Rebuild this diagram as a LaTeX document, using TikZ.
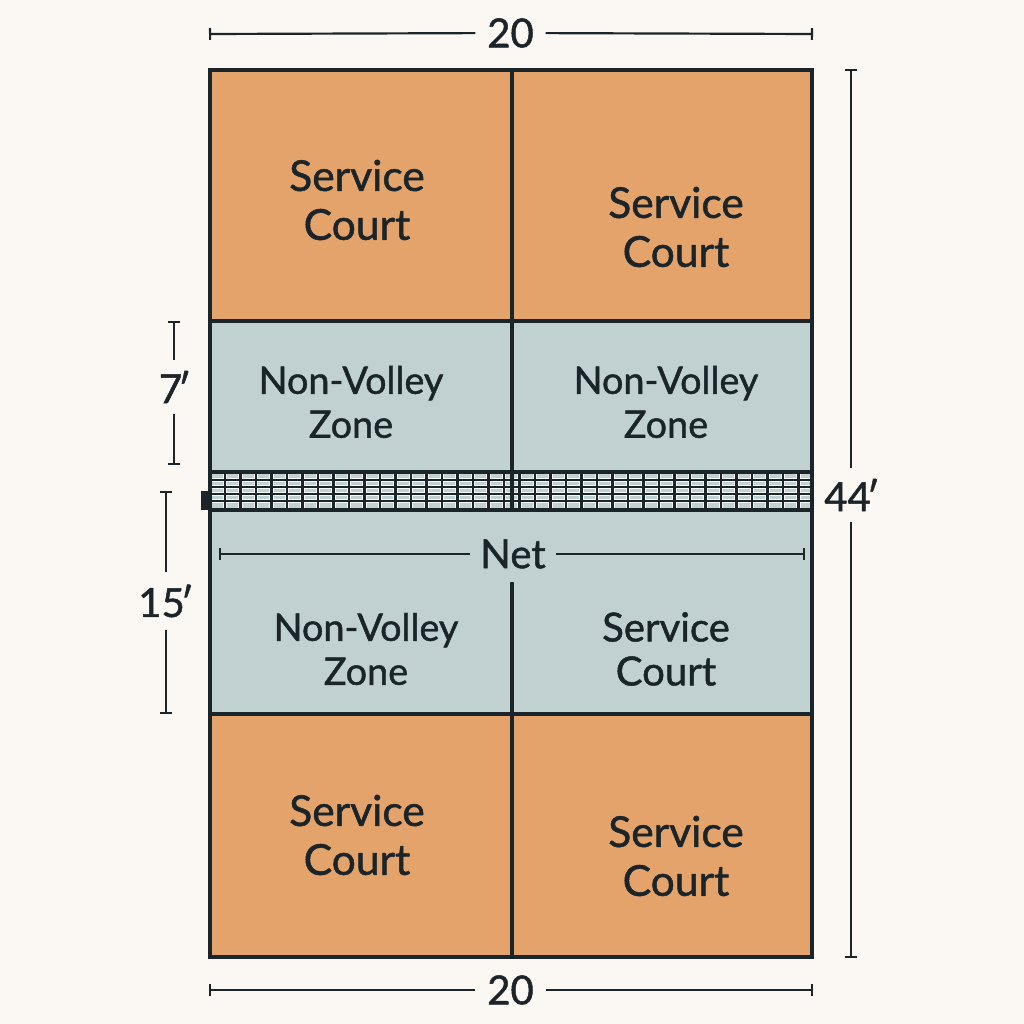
\documentclass[tikz,border=0pt]{standalone}
\usepackage{fontspec}
\setmainfont[FakeBold=1.2]{Lato}
\usetikzlibrary{arrows.meta}
\definecolor{paper}{HTML}{FBF8F3}
\definecolor{clay}{HTML}{E3A36B}
\definecolor{kitchen}{HTML}{C1D1D2}
\definecolor{ink}{HTML}{1B2529}
\tikzset{
    court/.style={draw=ink,line width=1pt,fill=clay},
    zone/.style={court,fill=kitchen},
    lbl/.style={text=ink,align=center,font=\fontsize{12.1}{13.9}\selectfont,inner sep=0pt},
    lblzone/.style={lbl,font=\fontsize{10.75}{12.5}\selectfont},
    lblmid/.style={lbl,font=\fontsize{11.4}{12.5}\selectfont},
    dimtxt/.style={lbl,font=\fontsize{11.4}{13}\selectfont},
    dimline/.style={draw=ink,line width=0.62pt,{Bar[width=3.4pt,length=0.62pt]}-},
    netline/.style={ink,line width=0.68pt},
    nethalo/.style={white!85!kitchen,line width=1.2pt},
}
\begin{document}
\begin{tikzpicture}[x=0.01cm,y=-0.01cm]
    \useasboundingbox[fill=paper] (0,0) rectangle (1024,1024);
    %courts
    \draw[court] (210,70) rectangle (512,321);
    \draw[court] (512,70) rectangle (812,321);
    \draw[zone] (210,321) rectangle (512,472);
    \draw[zone] (512,321) rectangle (812,472);
    \fill[kitchen] (210,510) rectangle (812,714);
    \draw[court] (210,714) rectangle (512,957);
    \draw[court] (512,714) rectangle (812,957);
    \draw[draw=ink,line width=1pt] (210,510) -- (210,714) (812,510) -- (812,714);
    \draw[draw=ink,line width=1pt] (512,582) -- (512,714);
    %net
    \fill[kitchen] (210,472) rectangle (812,510);
    \foreach \y in {480,487,494,501} \draw[nethalo] (211,\y) -- (811,\y);
    \foreach \x in {225,240.5,...,800} \draw[nethalo] (\x,473) -- (\x,509);
    \foreach \y in {480,487,494,501} \draw[netline] (211,\y) -- (811,\y);
    \foreach \x in {225,240.5,...,800} \draw[netline] (\x,473) -- (\x,509);
    \draw[ink,line width=0.9pt] (512,472) -- (512,510);
    \draw[ink,line width=1pt] (210,472) rectangle (812,510);
    \fill[ink] (201,491) rectangle (211,510);
    %labels
    \node[lbl] (st1) at (357,200) {Service\\Court};
    \node[lbl] (st2) at (676,227) {Service\\Court};
    \node[lblzone] (nv1) at (351,402) {Non-Volley\\Zone};
    \node[lblzone] (nv2) at (666,402) {Non-Volley\\Zone};
    \node[lblzone] (nv3) at (366,649) {Non-Volley\\Zone};
    \node[lblmid] (sm) at (666,649) {Service\\Court};
    \node[lbl] (sb1) at (357,835) {Service\\Court};
    \node[lbl] (sb2) at (676,856) {Service\\Court};
    %dimension labels
    \node[dimtxt,minimum width=0.69cm] (wtop) at (510.5,33) {20};
    \node[dimtxt,minimum width=0.69cm] (wbot) at (510.5,990) {20};
    \node[dimtxt,minimum width=0.85cm] (net) at (513,554) {Net};
    \node[dimtxt,minimum height=0.53cm] (h44) at (852,495) {44\kern-1.2pt′};
    \node[dimtxt,minimum height=0.53cm] (h7) at (175,387) {7\kern-1.2pt′};
    \node[dimtxt,minimum height=0.56cm] (h15) at (166,601) {15\kern-1.2pt′};
    %free ends
    \coordinate (wtopl) at (209,34);
    \coordinate (wtopr) at (813,34);
    \coordinate (wbotl) at (209,990);
    \coordinate (wbotr) at (813,990);
    \coordinate (netl) at (219,554);
    \coordinate (netr) at (805,554);
    \coordinate (h44t) at (851,69);
    \coordinate (h44b) at (851,958);
    \coordinate (h7t) at (174,321);
    \coordinate (h7b) at (174,465);
    \coordinate (h15t) at (166,491);
    \coordinate (h15b) at (166,714);
    %lines
    \foreach \a/\b in {wtopl/wtop,wtopr/wtop,wbotl/wbot,wbotr/wbot,netl/net,netr/net}
        \draw[dimline] (\a) -- (\b);
    \draw[dimline] (h44t) -- (h44t |- h44.north);
    \draw[dimline] (h44b) -- (h44b |- h44.south);
    \draw[dimline] (h7t) -- (h7t |- h7.north);
    \draw[dimline] (h7b) -- (h7b |- h7.south);
    \draw[dimline] (h15t) -- (h15t |- h15.north);
    \draw[dimline] (h15b) -- (h15b |- h15.south);
\end{tikzpicture}
\end{document}
